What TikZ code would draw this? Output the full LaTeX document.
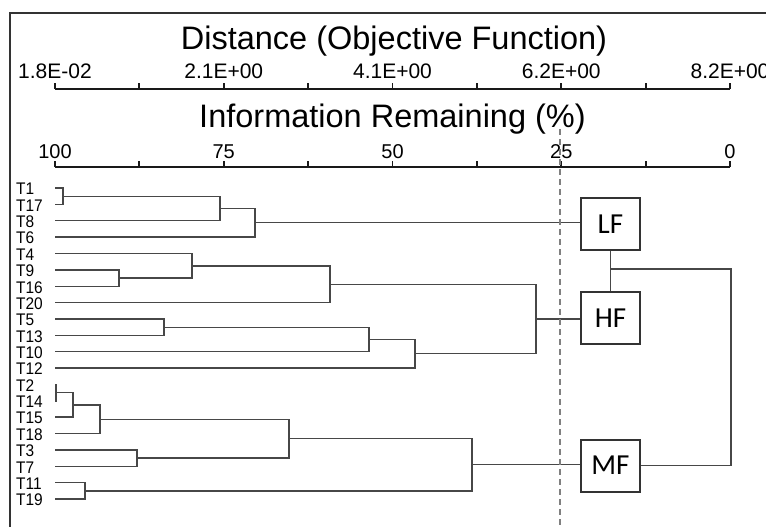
\documentclass[tikz,border=0pt]{standalone}
\usepackage{fontspec}
\setmainfont{Liberation Sans}
\newfontfamily\boxfont{Carlito}

\tikzset{
  branch/.style={draw=black!72, line width=1.4pt},
  leaf/.style={anchor=west, inner sep=0pt, xscale=0.92, font=\fontsize{16.8}{16.8}\selectfont},
  group/.style={draw=black!80, line width=2pt, minimum width=59pt, minimum height=52pt, inner sep=0pt, font=\boxfont\fontsize{29}{29}\selectfont},
  scaleline/.style={line width=1.8pt, black!90},
  scaletitle/.style={anchor=base, font=\fontsize{32.5}{32.5}\selectfont},
  cutline/.style={draw=black!50, line width=1.6pt, dash pattern=on 6pt off 4pt},
}

\begin{document}
\begin{tikzpicture}[x=1pt,y=-1pt]
\useasboundingbox (0,0) rectangle (766,527);
\clip (0,0) rectangle (766,527);
\draw[line width=1.5pt, black!80] (10,527) -- (10,13) -- (766,13);

% distance scale
\node[scaletitle] (disttitle) at (394,50) {Distance (Objective Function)};
\draw[scaleline] (55,89) -- (730,89);
\foreach \i in {0,...,8} \draw[scaleline] (55+84.375*\i,89) -- ++(0,-6);
\foreach \v [count=\i from 0] in {1.8E-02,2.1E+00,4.1E+00,6.2E+00,8.2E+00}
  \node[anchor=base, font=\fontsize{21}{21}\selectfont] (dist\i) at (55+168.75*\i,79) {\v};

% information remaining scale
\node[scaletitle] (infotitle) at (392.5,128) {Information Remaining (\%)};
\draw[scaleline] (55,167) -- (730,167);
\foreach \i in {0,...,8} \draw[scaleline] (55+84.375*\i,167) -- ++(0,-6);
\foreach \v [count=\i from 0] in {100,75,50,25,0}
  \node[anchor=base, font=\fontsize{20}{20}\selectfont] (info\i) at (55+168.75*\i,158) {\v};

% leaves
\foreach \lab [count=\i from 0] in {T1,T17,T8,T6,T4,T9,T16,T20,T5,T13,T10,T12,T2,T14,T15,T18,T3,T7,T11,T19}{
  \node[leaf] (l\lab) at (16,189+16.37*\i) {\lab};
  \coordinate (\lab) at (55,188+16.37*\i);
}

% groups
\node[group] (LF) at (610.5,224) {LF};
\node[group] (HF) at (610.5,318) {HF};
\node[group] (MF) at (610.5,465.5) {MF};

% merges
\coordinate (m1) at (63,196.2);
\coordinate (m2) at (220,208.5);
\coordinate (m3) at (255,222.7);
\coordinate (m4) at (119,278);
\coordinate (m5) at (192,265.8);
\coordinate (m6) at (330,284.2);
\coordinate (m7) at (164,327.2);
\coordinate (m8) at (369,339.5);
\coordinate (m9) at (415,353.7);
\coordinate (m10) at (536,319);
\coordinate (m11) at (56,392.7);
\coordinate (m12) at (73,404.9);
\coordinate (m13) at (100,419.2);
\coordinate (m14) at (137,458);
\coordinate (m15) at (289,438.6);
\coordinate (m16) at (85,490.8);
\coordinate (m17) at (472,464.7);

\draw[branch] (T1) -| (m1) |- (T17);
\draw[branch] (m1) -| (m2) |- (T8);
\draw[branch] (m2) -| (m3) |- (T6);
\draw[branch] (m3) -- (m3 -| LF.west);

\draw[branch] (T9) -| (m4) |- (T16);
\draw[branch] (T4) -| (m5) |- (m4);
\draw[branch] (m5) -| (m6) |- (T20);
\draw[branch] (T5) -| (m7) |- (T13);
\draw[branch] (m7) -| (m8) |- (T10);
\draw[branch] (m8) -| (m9) |- (T12);
\draw[branch] (m6) -| (m10) |- (m9);
\draw[branch] (m10) -- (m10 -| HF.west);

\draw[branch] (T2) -| (m11) |- (T14);
\draw[branch] (m11) -| (m12) |- (T15);
\draw[branch] (m12) -| (m13) |- (T18);
\draw[branch] (T3) -| (m14) |- (T7);
\draw[branch] (m13) -| (m15) |- (m14);
\draw[branch] (T11) -| (m16) |- (T19);
\draw[branch] (m15) -| (m17) |- (m16);
\draw[branch] (m17) -- (m17 -| MF.west);

\draw[branch] (LF) -- (HF);
\coordinate (lfhf) at (610.5,269);
\draw[branch] (lfhf) -- ++(120.5,0) |- (MF.east);

% cut level
\draw[cutline] (560,129) -- (560,527);
\end{tikzpicture}
\end{document}
